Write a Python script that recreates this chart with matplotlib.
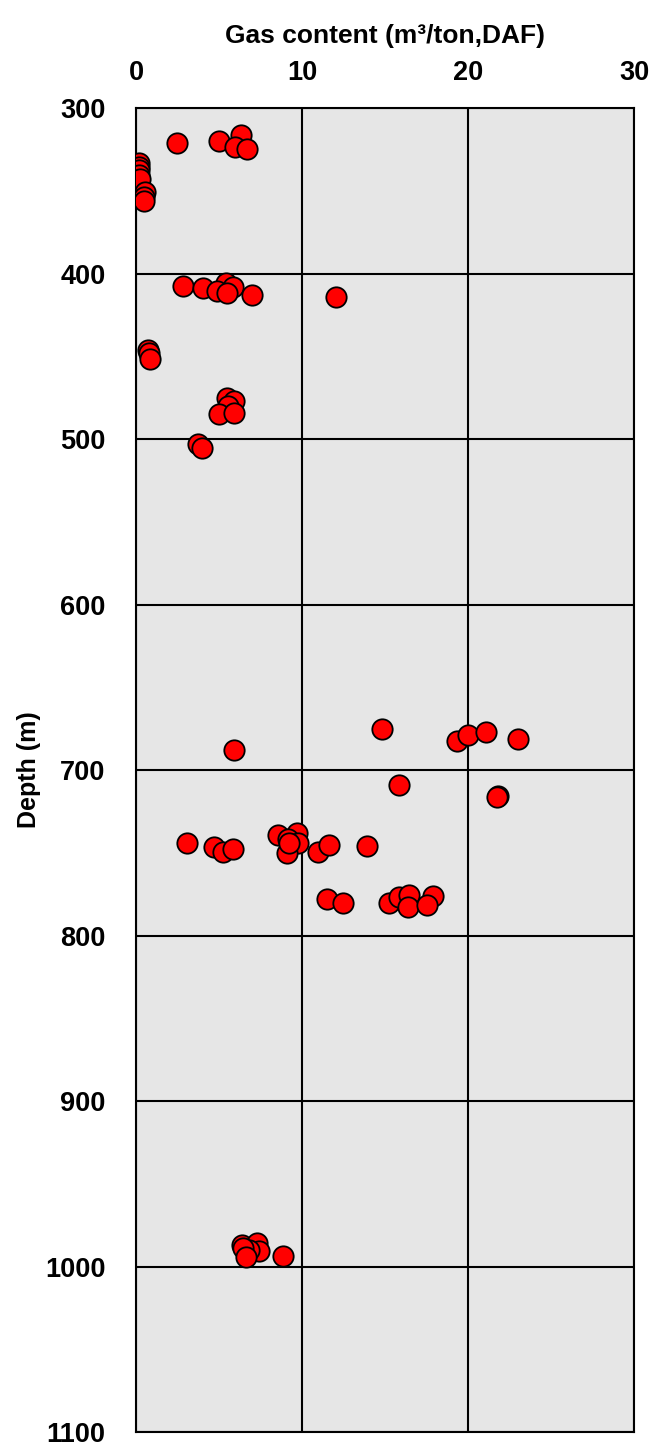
import matplotlib
matplotlib.use("Agg")
import matplotlib.pyplot as plt
from matplotlib import font_manager

# gas content (m3/ton, DAF) vs depth (m)
gas = [2.45, 5.02, 6.35, 5.98, 6.71,
       0.2, 0.2, 0.15, 0.2, 0.25,
       0.54, 0.48, 0.48,
       2.85, 4.05, 5.42, 5.86, 4.86, 5.5, 7.0, 12.05,
       0.74, 0.8, 0.84,
       5.46, 5.9, 5.56, 5.0, 5.9, 3.75, 3.96,
       5.9, 14.8, 19.32, 20.0, 21.1, 23.0, 15.86, 21.83, 21.77,
       3.05, 4.7, 5.22, 5.86, 8.57, 9.72, 9.18, 9.78, 9.08, 9.24, 10.94, 11.65, 13.9,
       11.53, 12.49, 15.26, 15.86, 16.46, 16.36, 17.87, 17.55,
       6.37, 7.27, 7.43, 6.83, 6.47, 6.63, 8.84]
depth = [321.3, 319.7, 316.3, 323.4, 324.8,
         333.4, 335.5, 337.5, 340.5, 342.9,
         350.6, 353.6, 356.0,
         407.6, 408.6, 405.6, 408.0, 410.4, 412.0, 413.0, 414.0,
         446.2, 448.2, 451.7,
         475.4, 476.8, 480.0, 485.0, 484.0, 503.2, 505.2,
         687.9, 675.2, 682.3, 678.9, 676.8, 681.3, 708.8, 715.7, 716.5,
         744.3, 746.3, 749.3, 747.9, 739.3, 737.9, 741.9, 744.3, 750.3, 744.3, 749.8, 745.0, 745.9,
         778.2, 780.1, 780.6, 776.9, 775.5, 782.6, 776.1, 781.6,
         987.0, 986.0, 990.5, 990.0, 989.0, 994.4, 993.6]

x_ticks = [0, 10, 20, 30]
y_ticks = [300, 400, 500, 600, 700, 800, 900, 1000, 1100]

fig = plt.figure(figsize=(6.53, 14.48), dpi=100)
ax = fig.add_axes([0.2083, 0.0110, 0.7626, 0.9144])
ax.set_facecolor("#e6e6e6")

ax.scatter(gas, depth, s=215, c="#ff0000", edgecolors="black", linewidths=1.3, zorder=3)

ax.set_xlim(0, 30)
ax.set_ylim(1100, 300)
ax.set_xticks(x_ticks)
ax.set_yticks(y_ticks)
ax.xaxis.tick_top()
ax.xaxis.set_label_position("top")
ax.grid(True, color="black", linewidth=1.5, zorder=1)
ax.set_axisbelow(True)
for sp in ax.spines.values():
    sp.set_linewidth(1.5)
    sp.set_color("black")

fp = font_manager.FontProperties(family="Liberation Sans", weight="bold", size=19.5)
ax.tick_params(axis="x", length=0, pad=16)
ax.tick_params(axis="y", length=0, pad=22)
for lab in ax.get_xticklabels() + ax.get_yticklabels():
    lab.set_fontproperties(fp)

ax.set_xlabel("Gas content (m³/ton,DAF)", fontfamily="Liberation Sans",
              fontweight="bold", fontsize=19, labelpad=12)
ax.set_ylabel("Depth (m)", fontfamily="Liberation Sans", fontweight="bold",
              fontsize=18)
ax.yaxis.set_label_coords(-0.19, 0.5)

fig.savefig("out.png", dpi=100)
